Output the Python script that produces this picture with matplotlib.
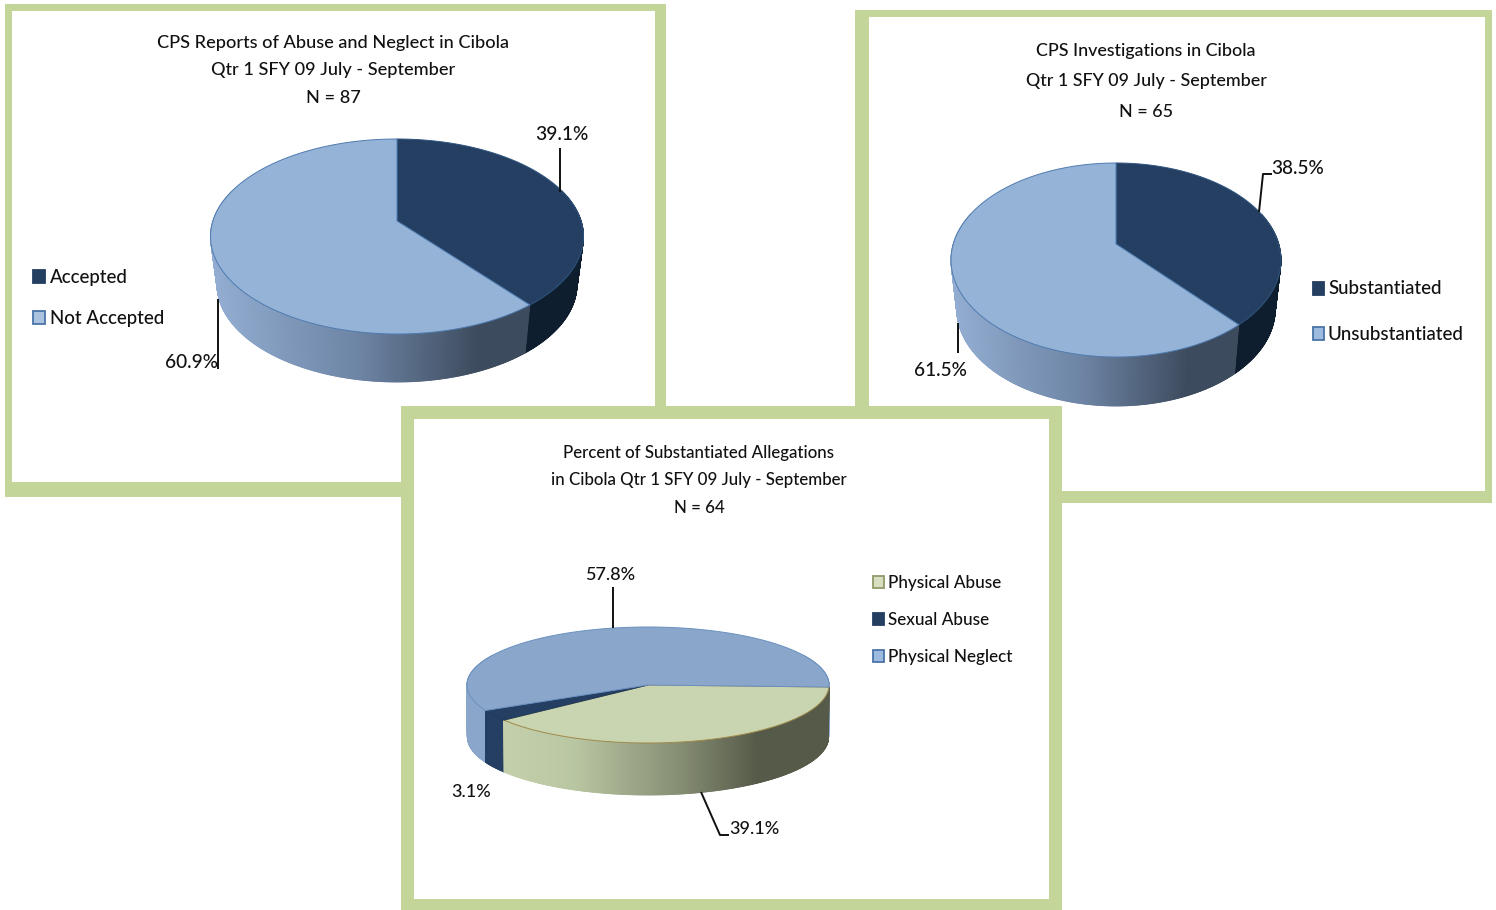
import numpy as np
import matplotlib
matplotlib.use("Agg")
import matplotlib.pyplot as plt
from matplotlib.patches import Rectangle, Polygon
from matplotlib.colors import to_rgb

plt.rcParams['font.family'] = ['Lato', 'Open Sans', 'DejaVu Sans']

labels_a = ["Accepted", "Not Accepted"]
values_a = [39.1, 60.9]
labels_b = ["Substantiated", "Unsubstantiated"]
values_b = [38.5, 61.5]
labels_c = ["Physical Abuse", "Sexual Abuse", "Physical Neglect"]
values_c = [39.1, 3.1, 57.8]
titles_a = ["CPS Reports of Abuse and Neglect in Cibola", "Qtr 1 SFY 09 July - September", "N = 87"]
titles_b = ["CPS Investigations in Cibola", "Qtr 1 SFY 09 July - September", "N = 65"]
titles_c = ["Percent of Substantiated Allegations", "in Cibola Qtr 1 SFY 09 July - September", "N = 64"]

GREEN = "#c4d59a"
NAVY = "#243f62"
BLUE = "#95b3d7"
BLUE3 = "#8aa6ca"
OLIVE = "#c9d5b0"

W, H = 1496, 910
fig = plt.figure(figsize=(W / 100, H / 100), dpi=100, facecolor="white")
ax = fig.add_axes([0, 0, 1, 1])
ax.set_xlim(0, W)
ax.set_ylim(H, 0)
ax.axis("off")


def panel(x0, y0, x1, y1, ix0, iy0, ix1, iy1, z):
    ax.add_patch(Rectangle((x0, y0), x1 - x0, y1 - y0, fc=GREEN, ec="none", zorder=z))
    ax.add_patch(Rectangle((ix0, iy0), ix1 - ix0, iy1 - iy0, fc="white", ec="none", zorder=z))


def mix(stops, t):
    xs = [s[0] for s in stops]
    cs = np.array([to_rgb(s[1]) for s in stops])
    return [float(np.interp(t, xs, cs[:, i])) for i in range(3)]


def pie3d(values, colors, edges, sides, start, ax0, ay0, rx, top, bottom, depth, shrink, z):
    ratio = (ay0 - top) / (bottom - ay0)
    k = (1 - ratio) / (1 + ratio)
    B = (ay0 - top) * (1 + k)
    A = rx * np.sqrt(1 - k * k)

    def pts(a):
        u, v = np.sin(a), np.cos(a)
        w = 1 + k * v
        return ax0 + A * u / w, ay0 - B * v / w

    def low(x):
        return ax0 + (x - ax0) * shrink

    fr = np.cumsum([0] + list(values)) / np.sum(values)
    angs = np.radians(start) + fr * 2 * np.pi
    quads = []
    for i in range(len(values)):
        t = np.arange(angs[i], angs[i + 1], np.radians(0.25))
        t = np.append(t, angs[i + 1])
        for a, b in zip(t[:-1], t[1:]):
            x0, y0 = pts(a)
            x1, y1 = pts(b)
            quads.append((np.cos((a + b) / 2), x0, y0, x1, y1, i))
    quads.sort(key=lambda q: -q[0])
    for _, x0, y0, x1, y1, i in quads:
        if (y0 + y1) / 2 < ay0 - 30:
            continue
        tc = ((x0 + x1) / 2 - (ax0 - rx)) / (2 * rx)
        c = mix(sides[i], tc)
        ax.add_patch(Polygon([(x0, y0), (x1, y1), (low(x1), y1 + depth), (low(x0), y0 + depth)],
                             fc=c, ec=c, lw=0.6, zorder=z))
    for i in range(len(values)):
        t = np.linspace(angs[i], angs[i + 1], 200)
        x, y = pts(t)
        poly = np.vstack([[ax0, ay0], np.column_stack([x, y])])
        ax.add_patch(Polygon(poly, fc=colors[i], ec=edges[i], lw=0.7, zorder=z + 1, joinstyle="round"))


def text(x, y, s, size=14, ha="center", z=20):
    ax.text(x, y, s, fontsize=size, ha=ha, va="center", color="#111111", zorder=z, fontweight=500)


def leader(xs, ys, z=20):
    ax.plot(xs, ys, color="#111111", lw=1.4, zorder=z, solid_capstyle="butt")


def swatch(x, y, fc, ec, z=20):
    ax.add_patch(Rectangle((x, y - 6), 11.5, 12.5, fc=fc, ec=ec, lw=1.3, zorder=z))


SIDE_DARK = [(0, "#0e1e2e"), (1, "#0e1e2e")]
SIDE_BLUE = [(0, "#93aed2"), (0.4, "#6d84a4"), (0.72, "#3d4b5e"), (1, "#3d4b5e")]

# Panel A
panel(5, 4, 666, 497, 12, 11, 655, 482, 1)
for y, s in zip([43, 70, 98], titles_a):
    text(333, y, s, 13.1)
pie3d(values_a, [NAVY, BLUE], ["#2f5580", "#4f7bb0"], [SIDE_DARK, SIDE_BLUE], 0, 397, 221, 186.5, 139, 334, 48, 0.965, 2)
leader([560, 560], [148, 192], 5)
text(562, 135, "39.1%", 13.8)
leader([218.5, 218.5], [299, 369], 5)
text(192, 362, "60.9%", 13.8)
swatch(33.5, 276, NAVY, NAVY, 5)
swatch(33.5, 317, "#acc3e0", "#4a74a8", 5)
text(50, 277.5, labels_a[0], 13.4, "left", 5)
text(50, 318.5, labels_a[1], 13.4, "left", 5)

# Panel B
panel(855, 10, 1492, 503, 869, 17, 1485, 491, 6)
for y, s in zip([51, 81, 112], titles_b):
    text(1146, y, s, 12.9)
pie3d(values_b, [NAVY, BLUE], ["#2f5580", "#4f7bb0"], [SIDE_DARK, SIDE_BLUE], 0, 1116, 244, 165, 163, 357, 49, 0.965, 7)
leader([1259, 1263, 1272], [212, 174, 174], 10)
text(1298, 168, "38.5%", 13.7)
leader([958, 958], [323, 353], 10)
text(940, 370, "61.5%", 13.7)
swatch(1313, 288, NAVY, NAVY, 10)
swatch(1313, 333, "#9dbbde", "#4a74a8", 10)
text(1328, 289, labels_b[0], 13.5, "left", 10)
text(1328, 334, labels_b[1], 13.5, "left", 10)

# Panel C
panel(401, 406, 1062, 910, 414, 419, 1049, 899, 11)
for y, s in zip([453, 480, 508], titles_c):
    text(699, y, s, 12.2)
side_c = [[(0, "#c9d5b0"), (0.3, "#b9c6a2"), (0.58, "#878f74"), (0.8, "#565b49"), (1, "#565b49")],
          [(0, NAVY), (1, NAVY)],
          [(0, BLUE3), (1, BLUE3)]]
pie3d(values_c, [OLIVE, NAVY, BLUE3], ["#a08a4a", "#1f3a5c", "#6a90c0"], side_c, 92, 648, 685, 181, 627, 743, 52, 0.998, 12)
leader([613, 613], [587, 628], 15)
text(610, 575, "57.8%", 13)
text(471, 792, "3.1%", 13)
leader([701, 720, 729], [792, 835, 835], 15)
text(754, 829.5, "39.1%", 13)
swatch(873, 581.5, "#d7dfc0", "#8f9a6a", 15)
swatch(873, 618.5, NAVY, NAVY, 15)
swatch(873, 655.5, "#9dbbde", "#4a74a8", 15)
text(888, 583, labels_c[0], 12.3, "left", 15)
text(888, 620, labels_c[1], 12.3, "left", 15)
text(888, 657, labels_c[2], 12.3, "left", 15)

fig.savefig("out.png", dpi=100, facecolor="white")
